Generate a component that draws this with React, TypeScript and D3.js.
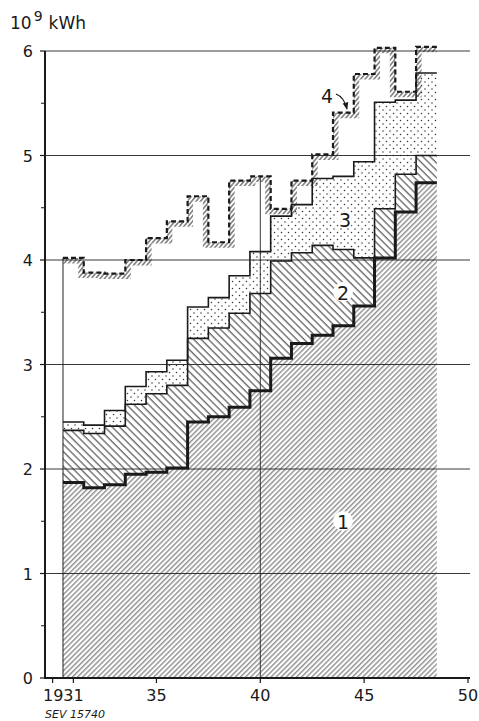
import React from "react";
import * as d3 from "d3";

// hydrological years, each step centred on its year
const years = [1931, 1932, 1933, 1934, 1935, 1936, 1937, 1938, 1939, 1940, 1941, 1942, 1943, 1944, 1945, 1946, 1947, 1948];
const series1 = [1.87, 1.82, 1.85, 1.95, 1.97, 2.01, 2.45, 2.5, 2.59, 2.75, 3.06, 3.2, 3.28, 3.37, 3.56, 4.02, 4.46, 4.74];
const series2 = [2.37, 2.34, 2.41, 2.62, 2.72, 2.8, 3.25, 3.35, 3.49, 3.68, 3.99, 4.07, 4.14, 4.1, 4.02, 4.49, 4.82, 5.0];
const series3 = [2.45, 2.42, 2.56, 2.79, 2.93, 3.04, 3.55, 3.64, 3.85, 4.08, 4.42, 4.53, 4.78, 4.8, 4.94, 5.51, 5.53, 5.79];
const series4 = [4.02, 3.88, 3.87, 4.0, 4.21, 4.37, 4.61, 4.17, 4.76, 4.8, 4.49, 4.76, 5.01, 5.41, 5.78, 6.03, 5.61, 6.04];
const yTicks = [0, 1, 2, 3, 4, 5, 6];
const yMinor = [0.5, 1.5, 2.5, 3.5, 4.5, 5.5];
const xTicks = [1930, 1931, 1935, 1940, 1945, 1950];
const xTickLabels = [
  { year: 1931, text: "1931", dx: -10 },
  { year: 1935, text: "35", dx: 0 },
  { year: 1940, text: "40", dx: 0 },
  { year: 1945, text: "45", dx: 0 },
  { year: 1950, text: "50", dx: 0 },
];

const W = 479;
const H = 721;
const x = d3.scaleLinear().domain([1930, 1950]).range([52.6, 468]);
const y = d3.scaleLinear().domain([0, 6]).range([678, 51]);
const axisX = 45;
const rightX = 470;
const font = "'DejaVu Sans', 'Liberation Sans', sans-serif";
const ink = "#1a1a1a";

type P = { t: number; v0: number; v1: number };

function stepPts(lo: number[] | null, hi: number[]): P[] {
  const pts: P[] = years.map((yr, i) => ({ t: yr - 0.5, v0: lo ? lo[i] : 0, v1: hi[i] }));
  const n = years.length - 1;
  pts.push({ t: years[n] + 0.5, v0: lo ? lo[n] : 0, v1: hi[n] });
  return pts;
}

const areaGen = d3
  .area<P>()
  .x((d) => x(d.t))
  .y0((d) => y(d.v0))
  .y1((d) => y(d.v1))
  .curve(d3.curveStepAfter);

const lineGen = d3
  .line<P>()
  .x((d) => x(d.t))
  .y((d) => y(d.v1))
  .curve(d3.curveStepAfter);

export default function App() {
  const a1 = areaGen(stepPts(null, series1)) || "";
  const a2 = areaGen(stepPts(series1, series2)) || "";
  const a3 = areaGen(stepPts(series2, series3)) || "";
  const a4 = areaGen(stepPts(null, series4)) || "";
  const l1 = lineGen(stepPts(null, series1)) || "";
  const l2 = lineGen(stepPts(null, series2)) || "";
  const l3 = lineGen(stepPts(null, series3)) || "";
  const l4 = lineGen(stepPts(null, series4)) || "";
  const x0 = x(years[0] - 0.5);
  const i40 = years.indexOf(1940);

  return (
    <svg width={W} height={H} style={{ position: "absolute", left: 0, top: 0, background: "#fff" }}>
      <defs>
        <pattern id="h1" patternUnits="userSpaceOnUse" width={3.6} height={10} patternTransform="rotate(45)">
          <line x1={0.8} y1={0} x2={0.8} y2={10} stroke="#444" strokeWidth={0.9} />
        </pattern>
        <pattern id="h2" patternUnits="userSpaceOnUse" width={5.2} height={10} patternTransform="rotate(-45)">
          <line x1={1} y1={0} x2={1} y2={10} stroke="#333" strokeWidth={1} />
        </pattern>
        <pattern id="dots" patternUnits="userSpaceOnUse" width={7} height={7}>
          <circle cx={1.5} cy={1.5} r={0.75} fill="#333" />
          <circle cx={5} cy={5} r={0.75} fill="#333" />
        </pattern>
        <pattern id="h4" patternUnits="userSpaceOnUse" width={3.4} height={10} patternTransform="rotate(40)">
          <line x1={0.8} y1={0} x2={0.8} y2={10} stroke="#333" strokeWidth={1} />
        </pattern>
        <clipPath id="under4">
          <path d={a4} />
        </clipPath>
        <marker id="arr" viewBox="0 0 10 10" refX={9} refY={5} markerWidth={6} markerHeight={6} orient="auto">
          <path d="M0,1 L10,5 L0,9 Z" fill={ink} />
        </marker>
      </defs>

      {/* fills */}
      <path d={a1} fill="url(#h1)" />
      <path d={a2} fill="url(#h2)" />
      <path d={a3} fill="url(#dots)" />

      {/* hatched band under line 4 */}
      <g clipPath="url(#under4)">
        <path d={l4} fill="none" stroke="url(#h4)" strokeWidth={11} />
      </g>

      {/* grid */}
      {yTicks.slice(1).map((t) => (
        <line key={t} x1={axisX} x2={rightX} y1={y(t)} y2={y(t)} stroke="#222" strokeWidth={0.9} />
      ))}
      <line x1={x(1940)} x2={x(1940)} y1={y(0)} y2={y(series4[i40])} stroke="#222" strokeWidth={0.9} />
      <line x1={x0} x2={x0} y1={y(0)} y2={y(series4[0])} stroke="#222" strokeWidth={1} />

      {/* label clear spots */}
      <circle cx={343} cy={521} r={10} fill="#fff" />
      <circle cx={343} cy={292} r={10} fill="#fff" />
      <circle cx={345} cy={219} r={9} fill="#fff" opacity={0.85} />

      {/* boundary lines */}
      <path d={l2} fill="none" stroke={ink} strokeWidth={1.6} />
      <path d={l3} fill="none" stroke={ink} strokeWidth={1.6} />
      <path d={l1} fill="none" stroke={ink} strokeWidth={3} />
      <path d={l4} fill="none" stroke={ink} strokeWidth={2.2} strokeDasharray="5 3" />

      {/* axes */}
      <line x1={axisX} x2={axisX} y1={y(6)} y2={y(0) + 1} stroke={ink} strokeWidth={2} />
      <line x1={axisX - 1} x2={rightX} y1={y(0)} y2={y(0)} stroke={ink} strokeWidth={2} />
      {yTicks.map((t) => (
        <line key={"yt" + t} x1={axisX - 5} x2={axisX} y1={y(t)} y2={y(t)} stroke={ink} strokeWidth={1.2} />
      ))}
      {yMinor.map((t) => (
        <line key={"ym" + t} x1={axisX - 4} x2={axisX} y1={y(t)} y2={y(t)} stroke={ink} strokeWidth={1} />
      ))}
      {xTicks.map((t) => (
        <line key={"xt" + t} x1={x(t)} x2={x(t)} y1={y(0)} y2={y(0) + 5} stroke={ink} strokeWidth={1.2} />
      ))}
      {yTicks.map((t) => (
        <text key={"yl" + t} x={33} y={y(t) + 6} textAnchor="end" fontFamily={font} fontSize={16} fill={ink}>
          {t}
        </text>
      ))}
      {xTickLabels.map((d) => (
        <text key={"xl" + d.year} x={x(d.year) + d.dx} y={701} textAnchor="middle" fontFamily={font} fontSize={16} fill={ink}>
          {d.text}
        </text>
      ))}

      <text x={10} y={29} fontFamily={font} fontSize={17} fill={ink}>
        <tspan>10</tspan>
        <tspan dx={2} dy={-8} fontSize={14}>9</tspan>
        <tspan dx={6} dy={8}>kWh</tspan>
      </text>
      <text x={45} y={718} fontFamily={font} fontSize={11} fontStyle="italic" fill={ink}>
        SEV 15740
      </text>

      {/* series labels */}
      <text x={343} y={529} textAnchor="middle" fontFamily={font} fontSize={19} fill={ink}>1</text>
      <text x={343} y={300} textAnchor="middle" fontFamily={font} fontSize={19} fill={ink}>2</text>
      <text x={345} y={227} textAnchor="middle" fontFamily={font} fontSize={19} fill={ink}>3</text>
      <text x={327} y={103} textAnchor="middle" fontFamily={font} fontSize={19} fill={ink}>4</text>
      <path d="M336,94 Q344,97 347,109" fill="none" stroke={ink} strokeWidth={1.2} markerEnd="url(#arr)" />
    </svg>
  );
}
